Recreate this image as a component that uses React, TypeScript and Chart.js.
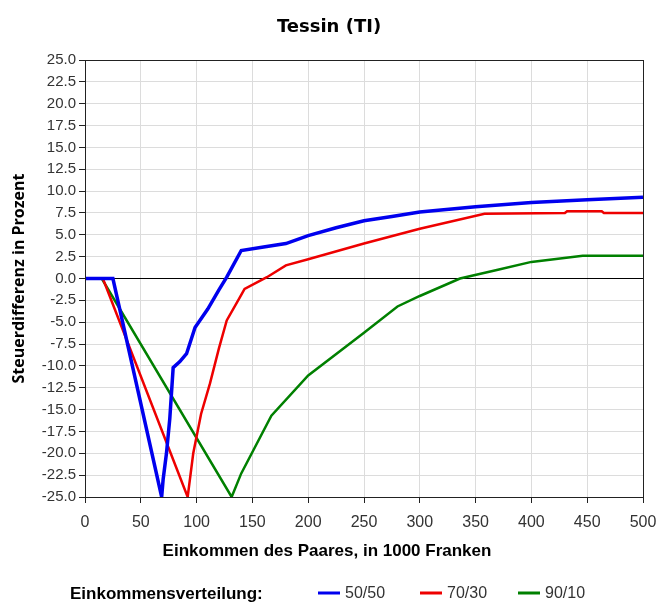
import { useEffect, useRef } from 'react';
import { Chart, registerables } from 'chart.js';

Chart.register(...registerables);

const TITLE = 'Tessin (TI)';
const X_TITLE = 'Einkommen des Paares, in 1000 Franken';
const Y_TITLE = 'Steuerdifferenz in Prozent';
const LEGEND_TITLE = 'Einkommensverteilung:';

const SERIES_LABELS = ['50/50', '70/30', '90/10'];
const SERIES_COLORS = ['#0000ee', '#ee0000', '#008000'];

const X_TICKS = [0, 50, 100, 150, 200, 250, 300, 350, 400, 450, 500];
const Y_MIN = -25;
const Y_MAX = 25;
const Y_STEP = 2.5;

const blueX = [0, 25, 68.7, 70, 73, 76, 79, 85, 91, 98.6, 110, 120, 127, 140, 160, 180, 200, 225, 250, 275, 300, 350, 400, 450, 500];
const blueY = [0, 0, -25, -23, -20, -16, -10.2, -9.5, -8.6, -5.6, -3.5, -1.3, 0.15, 3.2, 3.6, 4.0, 4.9, 5.8, 6.6, 7.1, 7.6, 8.2, 8.7, 9.0, 9.3];

const redX = [0, 16, 92, 97, 104, 112, 120, 127, 139, 143, 163, 180, 200, 250, 300, 358, 430, 432, 463, 465, 500];
const redY = [0, 0, -25, -20, -15.5, -12, -8, -4.8, -2.1, -1.2, 0.15, 1.5, 2.2, 4.0, 5.7, 7.4, 7.5, 7.7, 7.7, 7.5, 7.5];

const greenX = [0, 15, 131.4, 140, 167, 200, 250, 280, 300, 336, 370, 400, 446, 500];
const greenY = [0, 0, -25, -22.3, -15.7, -11.1, -6.2, -3.2, -2.0, 0, 1.0, 1.9, 2.6, 2.6];

const SERIES_X = [blueX, redX, greenX];
const SERIES_Y = [blueY, redY, greenY];
const SERIES_WIDTH = [3.5, 2.5, 2.5];

const W = 662;
const H = 604;

const decorPlugin = {
  id: 'decor',
  afterDraw(chart: any) {
    const { ctx, chartArea } = chart;
    const a = chartArea;
    ctx.save();
    // frame
    ctx.strokeStyle = '#222';
    ctx.lineWidth = 1;
    ctx.strokeRect(Math.round(a.left) + 0.5, Math.round(a.top) + 0.5, Math.round(a.right - a.left), Math.round(a.bottom - a.top));

    ctx.fillStyle = '#000';
    ctx.textAlign = 'center';
    ctx.textBaseline = 'middle';
    // title
    ctx.font = 'bold 18px "DejaVu Sans"';
    ctx.fillText(TITLE, W / 2 - 2, 27);
    // x title
    ctx.font = 'bold 17px "Liberation Sans"';
    ctx.fillText(X_TITLE, W / 2 - 4, 551);
    // y title
    ctx.save();
    ctx.translate(19, (a.top + a.bottom) / 2);
    ctx.rotate(-Math.PI / 2);
    ctx.font = 'bold 16px "Open Sans"';
    ctx.fillText(Y_TITLE, 0, 0);
    ctx.restore();
    // legend
    ctx.textAlign = 'left';
    ctx.font = 'bold 17px "Liberation Sans"';
    ctx.fillText(LEGEND_TITLE, 70, 594);
    ctx.font = '16px "Liberation Sans"';
    const xs = [318, 420, 518];
    for (let i = 0; i < 3; i++) {
      ctx.strokeStyle = SERIES_COLORS[i];
      ctx.lineWidth = 3;
      ctx.beginPath();
      ctx.moveTo(xs[i], 593);
      ctx.lineTo(xs[i] + 22, 593);
      ctx.stroke();
      ctx.fillStyle = '#333';
      ctx.fillText(SERIES_LABELS[i], xs[i] + 27, 594);
    }
    ctx.restore();
  },
};

export default function App() {
  const ref = useRef<HTMLCanvasElement | null>(null);
  useEffect(() => {
    document.body.style.margin = '0';
    const canvas = ref.current;
    if (!canvas) return;
    const datasets = SERIES_LABELS.map((label, i) => ({
      label,
      data: SERIES_X[i].map((x, j) => ({ x, y: SERIES_Y[i][j] })),
      borderColor: SERIES_COLORS[i],
      backgroundColor: SERIES_COLORS[i],
      borderWidth: SERIES_WIDTH[i],
      pointRadius: 0,
      fill: false,
      tension: 0,
    }));
    const chart = new Chart(canvas, {
      type: 'line',
      data: { datasets },
      options: {
        animation: false,
        responsive: false,
        maintainAspectRatio: false,
        layout: { padding: { top: 60, right: 19, left: 0, bottom: 0 } },
        plugins: { legend: { display: false }, title: { display: false }, tooltip: { enabled: false } },
        scales: {
          x: {
            type: 'linear',
            min: 0,
            max: 500,
            afterFit: (s: any) => { s.height = H - 497; s.paddingLeft = 0; s.paddingRight = 0; },
            afterBuildTicks: (s: any) => { s.ticks = X_TICKS.map((v) => ({ value: v })); },
            grid: { color: '#dcdcdc', tickColor: '#222', tickLength: 6, lineWidth: 1 },
            border: { display: false },
            ticks: { color: '#333', font: { family: 'Liberation Sans', size: 16 }, padding: 10, maxRotation: 0, autoSkip: false },
          },
          y: {
            type: 'linear',
            min: Y_MIN,
            max: Y_MAX,
            afterFit: (s: any) => { s.width = 85; s.paddingTop = 0; s.paddingBottom = 0; },
            grid: {
              color: (c: any) => (c.tick && c.tick.value === 0 ? '#000' : '#dcdcdc'),
              tickColor: '#222',
              tickLength: 6,
              lineWidth: 1,
            },
            border: { display: false },
            ticks: {
              stepSize: Y_STEP,
              color: '#333',
              font: { family: 'Liberation Sans', size: 15 },
              padding: 3,
              autoSkip: false,
              callback: (v: any) => Number(v).toFixed(1),
            },
          },
        },
      },
      plugins: [decorPlugin],
    });
    return () => chart.destroy();
  }, []);
  return (
    <div style={{ position: 'fixed', left: 0, top: 0, width: W, height: H, background: '#fff' }}>
      <canvas ref={ref} width={W} height={H} style={{ width: W, height: H, display: 'block' }} />
    </div>
  );
}
